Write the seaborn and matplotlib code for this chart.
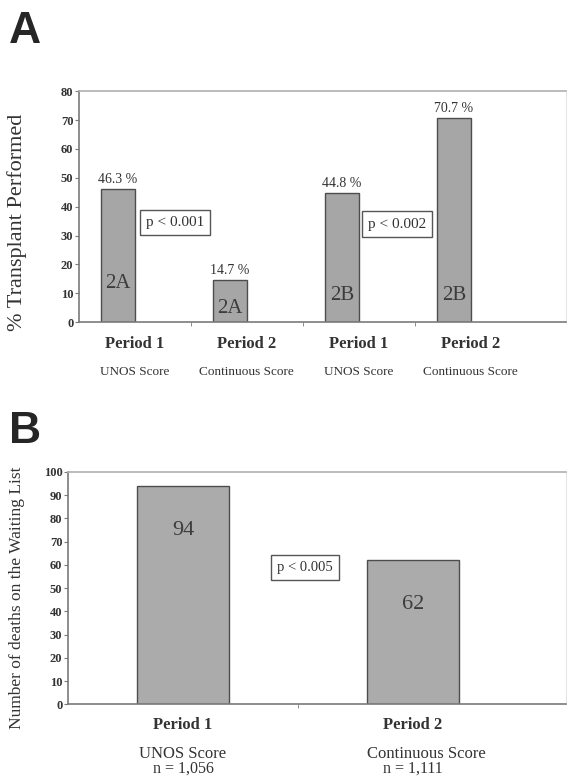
import matplotlib
matplotlib.use('Agg')
import matplotlib.pyplot as plt
import matplotlib.transforms as mtransforms
import numpy as np
import pandas as pd
import seaborn as sns

# Panel A data
a_keys = ['p1_2a', 'p2_2a', 'p1_2b', 'p2_2b']
a_values = [46.3, 14.7, 44.8, 70.7]
a_groups = ['2A', '2A', '2B', '2B']
a_periods = ['Period 1', 'Period 2', 'Period 1', 'Period 2']
a_scores = ['UNOS Score', 'Continuous Score', 'UNOS Score', 'Continuous Score']
a_pvalues = ['p < 0.001', 'p < 0.002']

# Panel B data
b_keys = ['p1', 'p2']
b_values = [94, 62]
b_periods = ['Period 1', 'Period 2']
b_scores = ['UNOS Score', 'Continuous Score']
b_counts = ['n = 1,056', 'n = 1,111']
b_pvalue = 'p < 0.005'

sns.set_style('white')
plt.rcParams['font.family'] = ['Liberation Serif', 'DejaVu Serif']

BAR = '#a6a6a6'
EDGE = '#4d4d4d'
SPINE = '#7a7a7a'
TXT = '#333333'

fig = plt.figure(figsize=(5.67, 7.80), dpi=100)
ax_a = fig.add_axes([0.139, 0.587, 0.859, 0.296])
ax_b = fig.add_axes([0.120, 0.097, 0.878, 0.298])


def style_axes(ax, ymax, label, label_size, label_x, label_y):
    ax.set_ylim(0, ymax)
    ax.set_yticks(np.arange(0, ymax + 1, 10))
    for lbl in ax.get_yticklabels():
        lbl.set_fontweight('bold')
        lbl.set_fontsize(9)
        lbl.set_color(TXT)
    ax.tick_params(axis='y', direction='out', length=3, width=0.8, color=SPINE, pad=1, left=True)
    ax.tick_params(axis='x', which='major', length=0)
    ax.tick_params(axis='x', which='minor', direction='out', length=3, color=SPINE, bottom=True)
    for side in ['left', 'bottom']:
        ax.spines[side].set_color(SPINE)
        ax.spines[side].set_linewidth(1.2)
    ax.spines['top'].set_color('#b0b0b0')
    ax.spines['top'].set_linewidth(1.2)
    ax.spines['right'].set_color('#e6e6e6')
    ax.set_ylabel(label, fontsize=label_size, color=TXT)
    ax.yaxis.set_label_coords(label_x, label_y)
    ax.set_xlabel('')


# ---- Panel A ----
# second (empty) series keeps the Excel-style left offset of each bar
df_a = pd.DataFrame({'key': a_keys * 2, 'value': a_values + [0] * 4,
                     'series': ['main'] * 4 + ['spacer'] * 4})
sns.barplot(data=df_a, x='key', y='value', hue='series', hue_order=['main', 'spacer'],
            width=0.6, palette={'main': BAR, 'spacer': BAR}, saturation=1,
            edgecolor=EDGE, linewidth=1.0, legend=False, ax=ax_a)
for p in list(ax_a.patches):
    if p.get_height() == 0:
        p.remove()
ax_a.set_xlim(-0.5, 3.85)
style_axes(ax_a, 80, '% Transplant Performed', 16, -0.106, 0.43)
ax_a.set_xticks(np.arange(0.5, 3, 1), minor=True)
ax_a.set_xticklabels(a_periods, fontweight='bold', fontsize=12, color=TXT)
ax_a.tick_params(axis='x', which='major', pad=10)
trans_a = mtransforms.blended_transform_factory(ax_a.transData, ax_a.transAxes)
for i, s in enumerate(a_scores):
    ax_a.text(i, -0.215, s, transform=trans_a, ha='center', va='center', fontsize=9.5,
              color=TXT)

bars_a = [p for p in ax_a.patches if p.get_height() > 0]
group_y = [13.5, 4.8, 9.3, 9.3]
for p, v, g, gy in zip(bars_a, a_values, a_groups, group_y):
    cx = p.get_x() + p.get_width() / 2
    ax_a.text(cx, v + 1.0, f'{v} %', ha='center', va='bottom', fontsize=10, color=TXT)
    ax_a.text(cx, gy, g, ha='center', va='center', fontsize=15, color='#3c3c3c')

box = dict(boxstyle='square,pad=0.4', facecolor='white', edgecolor='#555555', linewidth=1.0)
ax_a.text(0.36, 34.6, a_pvalues[0], ha='center', va='center', fontsize=11, bbox=box, color=TXT)
ax_a.text(2.34, 34.0, a_pvalues[1], ha='center', va='center', fontsize=11, bbox=box, color=TXT)

fig.text(0.016, 0.945, 'A', fontsize=32, fontweight='bold', family='Liberation Sans')

# ---- Panel B ----
df_b = pd.DataFrame({'key': b_keys, 'value': b_values})
sns.barplot(data=df_b, x='key', y='value', color='#ababab', saturation=1, width=0.4,
            edgecolor=EDGE, linewidth=1.0, ax=ax_b)
ax_b.set_xlim(-0.5, 1.665)
style_axes(ax_b, 100, 'Number of deaths on the Waiting List', 12.5, -0.086, 0.46)
ax_b.set_xticks([0.5], minor=True)
ax_b.set_xticklabels(b_periods, fontweight='bold', fontsize=12, color=TXT)
ax_b.tick_params(axis='x', which='major', pad=9)
trans_b = mtransforms.blended_transform_factory(ax_b.transData, ax_b.transAxes)
for i, (s, n) in enumerate(zip(b_scores, b_counts)):
    ax_b.text(i + (0.06 if i == 1 else 0), -0.212, s, transform=trans_b, ha='center',
              va='center', fontsize=12, color=TXT)
    ax_b.text(i, -0.277, n, transform=trans_b, ha='center', va='center', fontsize=11.5,
              color=TXT)

for p, v in zip(ax_b.patches, b_values):
    cx = p.get_x() + p.get_width() / 2
    ax_b.text(cx, v - 19, str(v), ha='center', va='center', fontsize=16, color='#3c3c3c')

box_b = dict(boxstyle='square,pad=0.4', facecolor='white', edgecolor='#555555', linewidth=1.0)
ax_b.text(0.53, 59, b_pvalue, ha='center', va='center', fontsize=10.5, bbox=box_b, color=TXT)

fig.text(0.016, 0.432, 'B', fontsize=32, fontweight='bold', family='Liberation Sans')

fig.savefig('out.png', dpi=100)
